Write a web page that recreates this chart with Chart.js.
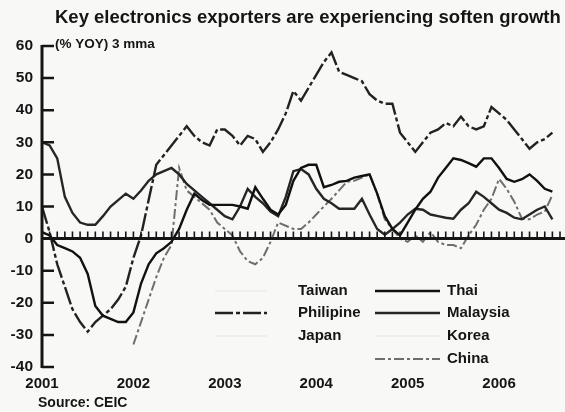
<!DOCTYPE html>
<html>
<head>
<meta charset="utf-8">
<script src="https://cdn.jsdelivr.net/npm/chart.js@4.4.0/dist/chart.umd.min.js"></script>
<style>
    html, body { margin: 0; padding: 0; background: #f8f8f6; }
</style>
</head>
<body>
<canvas id="graficoExportadores" width="565" height="412"></canvas>
<script>
// rótulos do eixo x (um por ano, a cada 12 meses)
const anos = ['2001', '2002', '2003', '2004', '2005', '2006'];
const ticksY = [60, 50, 40, 30, 20, 10, 0, -10, -20, -30, -40];

// % YOY, média móvel de 3 meses, mensal a partir de jan/2001
const filipinas = [
    10, 2, -8, -15, -22, -26, -29, -26, -24, -22, -19, -15,
    -6, 1, 12, 23, 26, 29, 32, 35, 32, 30, 29, 34,
    34, 32, 29, 32, 31, 27, 30, 34, 39, 46, 43, 47,
    51, 55, 58, 52, 51, 50, 49, 45, 43, 42, 42, 33,
    30, 27, 30, 33, 34, 36, 35, 38, 35, 34, 35, 41,
    39, 37, 34, 31, 28, 30, 31, 33
];
const tailandia = [
    2, 1, -2, -3, -4, -6, -11, -21, -24, -25, -26, -26,
    -23, -14, -8, -4.6, -3, -1, 3, 9, 14, 12, 10.5, 10.5,
    10.5, 10.5, 10, 9.3, 16, 12.4, 9, 7.5, 10.5, 18, 22, 23,
    23, 16, 16.7, 17.7, 18, 19, 19.5, 20, 14, 7, 3, 1,
    5, 9, 12.4, 14.6, 19, 22, 25, 24.5, 23.5, 22.4, 25, 25,
    22, 18.6, 17.7, 18.5, 20, 18, 15.5, 14.6
];
const malasia = [
    30, 29, 25, 13, 8, 5, 4.3, 4.3, 7, 10, 12, 14,
    12.4, 15, 18, 20, 21, 22, 20, 17, 15, 13, 11, 9,
    7, 6, 10, 15.5, 13, 11, 8.4, 7, 13, 21, 21.7, 20,
    15.5, 12.4, 11, 9.3, 9.3, 9.3, 12.4, 7.5, 3, 1.2, 3, 5,
    7.5, 9.3, 9, 7.5, 7, 6.5, 6.2, 9, 11, 14.6, 13, 11,
    9, 8, 6.5, 6, 7.5, 9, 10, 6
];
const china = [
    null, null, null, null, null, null, null, null, null, null, null, null,
    -33, -26, -19, -12, -6, -2, 22, 15, 13, 11, 9, 5,
    3, 1, -4, -7, -8, -6, -1, 5, 4, 3, 3, 5,
    7.5, 10, 12.4, 15, 17.7, 18, 19, 20, 14, 6, 3, 0,
    -1, 1, -1, 2, -1, -2, -2, -3, 1, 4.3, 9, 12.4,
    18.6, 15.5, 11.5, 6.2, 6, 7.5, 8.4, 13.6
];
const taiwan = [];
const japao = [];
const coreia = [];

const fonte = "'Liberation Sans', Arial, sans-serif";

// colunas da legenda, como aparecem dentro da área do gráfico
const legendaColunas = [
    { amostraX: 215, amostraFim: 267, textoX: 298, itens: ['Taiwan', 'Philipine', 'Japan'] },
    { amostraX: 375, amostraFim: 440, textoX: 447, itens: ['Thai', 'Malaysia', 'Korea', 'China'] }
];
const legendaLinhasY = [291, 313, 336, 359];

function pontos(valores) {
    return valores.map((v, mes) => ({ x: mes, y: v }));
}

const extras = {
    id: 'extras',
    beforeDraw(chart) {
        const ctx = chart.ctx;
        ctx.save();
        ctx.fillStyle = '#f8f8f6';
        ctx.fillRect(0, 0, chart.width, chart.height);
        ctx.restore();
    },
    afterDraw(chart) {
        const ctx = chart.ctx;
        const area = chart.chartArea;
        const x = chart.scales.x;
        const y = chart.scales.y;
        ctx.save();
        ctx.strokeStyle = '#151515';
        ctx.fillStyle = '#151515';

        // eixo y com traços para dentro
        ctx.lineWidth = 3;
        ctx.beginPath();
        ctx.moveTo(area.left, y.getPixelForValue(60) - 1);
        ctx.lineTo(area.left, y.getPixelForValue(-40) + 1);
        ctx.stroke();
        ctx.lineWidth = 2.5;
        ctx.beginPath();
        ticksY.forEach((v) => {
            const py = y.getPixelForValue(v);
            ctx.moveTo(area.left, py);
            ctx.lineTo(area.left + 12, py);
        });
        ctx.stroke();

        // linha do zero com marcas mensais
        const zy = y.getPixelForValue(0);
        ctx.lineWidth = 3;
        ctx.beginPath();
        ctx.moveTo(area.left, zy);
        ctx.lineTo(chart.width, zy);
        ctx.stroke();
        ctx.lineWidth = 1.6;
        ctx.beginPath();
        for (let m = 1; m <= 68; m++) {
            const px = x.getPixelForValue(m);
            ctx.moveTo(px, zy);
            ctx.lineTo(px, zy - 7);
        }
        ctx.stroke();

        // legenda
        ctx.font = "bold 15px " + fonte;
        ctx.textBaseline = 'middle';
        ctx.textAlign = 'left';
        legendaColunas.forEach((col) => {
            col.itens.forEach((nome, i) => {
                const ds = chart.data.datasets.find((d) => d.label === nome);
                const ly = legendaLinhasY[i];
                ctx.save();
                ctx.strokeStyle = ds.borderColor;
                ctx.lineWidth = ds.borderWidth;
                ctx.setLineDash(ds.borderDash || []);
                ctx.beginPath();
                ctx.moveTo(col.amostraX, ly);
                ctx.lineTo(col.amostraFim, ly);
                ctx.stroke();
                ctx.restore();
                ctx.fillText(nome, col.textoX, ly);
            });
        });

        // títulos e fonte
        ctx.font = "bold 18.5px " + fonte;
        ctx.fillText('Key electronics exporters are experiencing soften growth', 55, 18);
        ctx.font = "bold 13.5px " + fonte;
        ctx.fillText('(% YOY) 3 mma', 55, 44);
        ctx.font = "bold 14px " + fonte;
        ctx.fillText('Source: CEIC', 38, 403);
        ctx.restore();
    }
};

function renderizarGrafico() {
    const ctx = document.getElementById('graficoExportadores');

    new Chart(ctx, {
        type: 'line',
        data: {
            datasets: [
                { label: 'Taiwan', data: pontos(taiwan), borderColor: '#ececec', borderWidth: 1.5 },
                { label: 'Thai', data: pontos(tailandia), borderColor: '#111111', borderWidth: 2.4 },
                { label: 'Philipine', data: pontos(filipinas), borderColor: '#222222', borderWidth: 2.4, borderDash: [18, 3, 4, 3] },
                { label: 'Malaysia', data: pontos(malasia), borderColor: '#262626', borderWidth: 2.4 },
                { label: 'Japan', data: pontos(japao), borderColor: '#ececec', borderWidth: 1.5 },
                { label: 'Korea', data: pontos(coreia), borderColor: '#ececec', borderWidth: 1.5 },
                { label: 'China', data: pontos(china), borderColor: '#6e6e6e', borderWidth: 2, borderDash: [10, 3, 3, 3] }
            ]
        },
        options: {
            responsive: false,
            animation: false,
            spanGaps: false,
            elements: {
                point: { radius: 0 },
                line: { tension: 0, fill: false }
            },
            layout: { padding: { top: 46, right: 5, left: 0, bottom: 0 } },
            plugins: {
                legend: { display: false },
                tooltip: { enabled: false }
            },
            scales: {
                x: {
                    type: 'linear',
                    min: 0,
                    max: 68,
                    afterFit: (scale) => { scale.height = 45; },
                    afterBuildTicks: (scale) => {
                        scale.ticks = anos.map((a, i) => ({ value: i * 12 }));
                    },
                    grid: { display: false, drawTicks: false },
                    border: { display: false },
                    ticks: {
                        padding: 8,
                        color: '#151515',
                        font: { family: fonte, size: 15, weight: 'bold' },
                        callback: (v) => anos[v / 12]
                    }
                },
                y: {
                    min: -40,
                    max: 60,
                    afterFit: (scale) => { scale.width = 42; },
                    afterBuildTicks: (scale) => {
                        scale.ticks = ticksY.map((v) => ({ value: v }));
                    },
                    grid: { display: false, drawTicks: false },
                    border: { display: false },
                    ticks: {
                        padding: 9,
                        color: '#151515',
                        font: { family: fonte, size: 15.5, weight: 'bold' }
                    }
                }
            }
        },
        plugins: [extras]
    });
}

renderizarGrafico();
</script>
</body>
</html>
